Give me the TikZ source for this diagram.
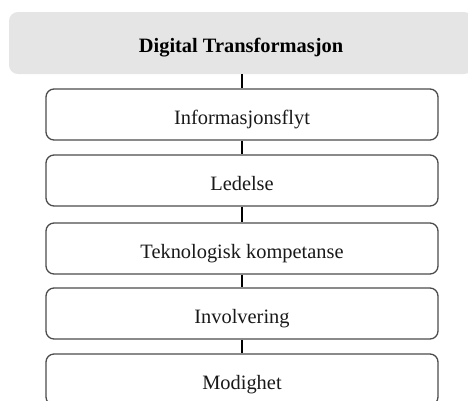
\documentclass[tikz,border=0pt]{standalone}
\usepackage{fontspec}
\setmainfont{Liberation Serif}
\begin{document}
\begin{tikzpicture}[x=1pt,y=-1pt,
  titlebox/.style={fill=black!10, rounded corners=9pt, minimum width=464pt, minimum height=62pt, inner sep=0pt, text height=19pt, text depth=0pt, font=\fontsize{20.4}{24}\selectfont\bfseries, text=black},
  itembox/.style={draw=black!70, line width=1.3pt, fill=white, rounded corners=8pt, minimum width=392pt, minimum height=51pt, inner sep=0pt, text height=19pt, text depth=0pt, font=\fontsize{20.4}{24}\selectfont, text=black!90},
  conn/.style={draw=black, line width=2.5pt}]
\useasboundingbox (0,0) rectangle (468,400);
\clip (0,0) rectangle (468,400);
\node[titlebox] (t) at (241,43) {Digital Transformasjon};
\node[itembox] (a) at (242,114.5) {Informasjonsflyt};
\node[itembox] (b) at (242,180.5) {Ledelse};
\node[itembox] (c) at (242,248.5) {Teknologisk kompetanse};
\node[itembox] (d) at (242,313.5) {Involvering};
\node[itembox] (e) at (242,379.5) {Modighet};
\draw[conn] (t.south -| a.north) -- (a.north);
\draw[conn] (a.south) -- (b.north);
\draw[conn] (b.south) -- (c.north);
\draw[conn] (c.south) -- (d.north);
\draw[conn] (d.south) -- (e.north);
\end{tikzpicture}
\end{document}
